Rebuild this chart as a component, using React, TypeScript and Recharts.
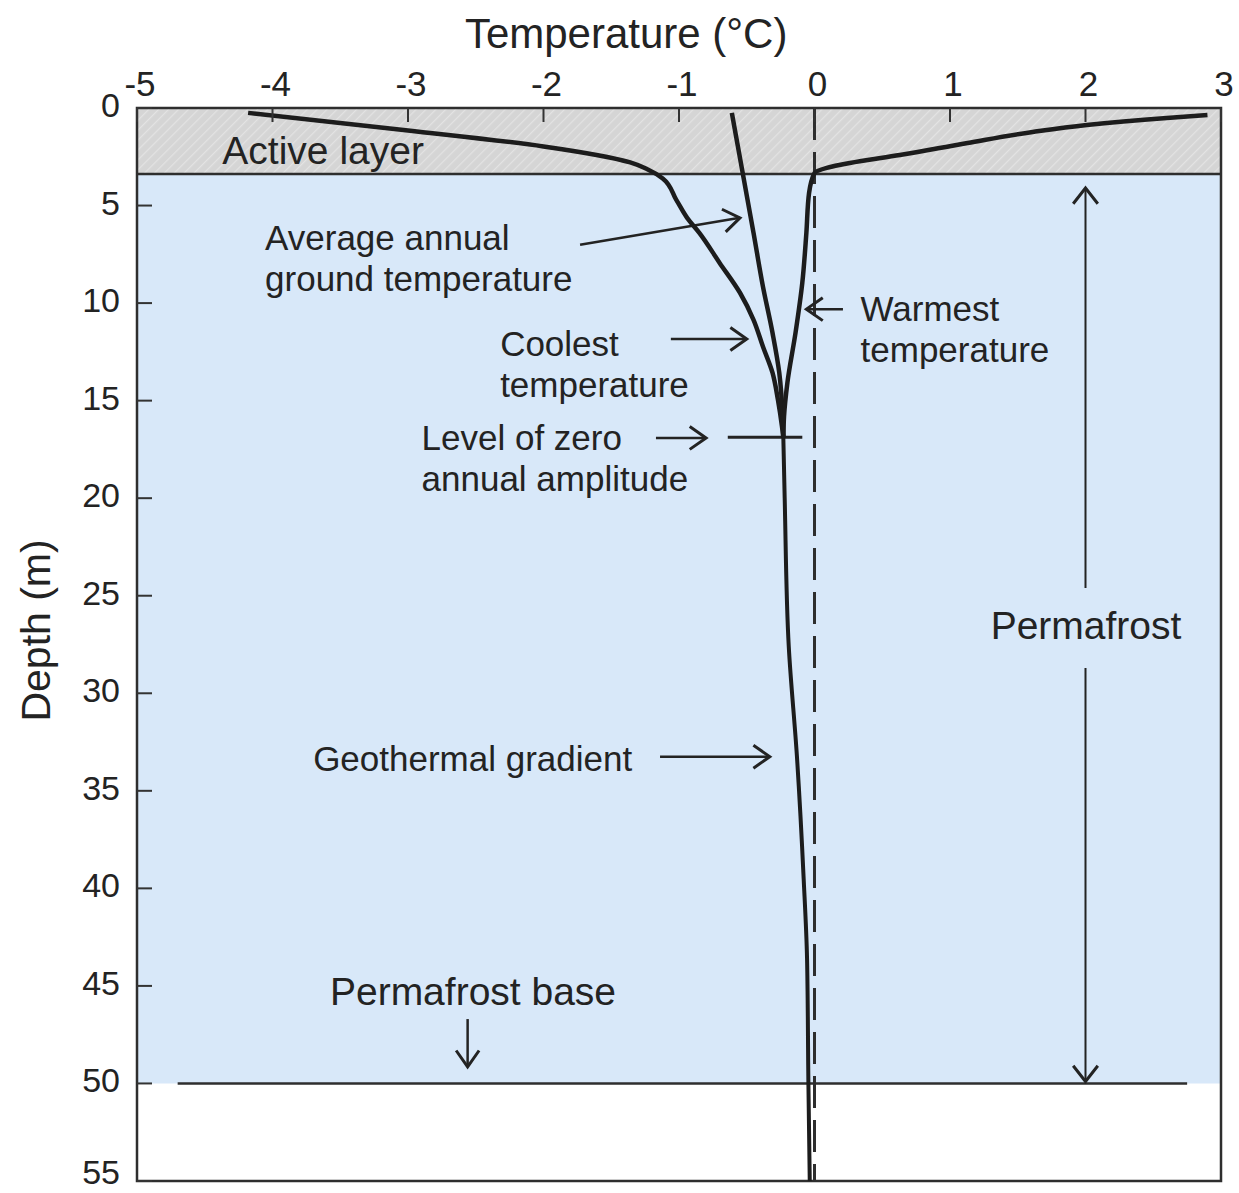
import React from 'react';
import {
  ScatterChart,
  Scatter,
  XAxis,
  YAxis,
  ReferenceArea,
  ReferenceLine,
  ReferenceDot,
} from 'recharts';

// ---------- data ----------
const tempTicks = [-5, -4, -3, -2, -1, 0, 1, 2, 3];
const depthTicks = [0, 5, 10, 15, 20, 25, 30, 35, 40, 45, 50, 55];

const activeLayerDepth = 3.38;
const permafrostBaseDepth = 50;

const coolest = [
  { t: -4.18, d: 0.25 },
  { t: -3.0, d: 1.15 },
  { t: -2.0, d: 1.97 },
  { t: -1.36, d: 2.79 },
  { t: -1.23, d: 3.15 },
  { t: -1.12, d: 3.61 },
  { t: -1.02, d: 4.71 },
  { t: -0.94, d: 5.63 },
  { t: -0.85, d: 6.4 },
  { t: -0.7, d: 7.94 },
  { t: -0.55, d: 9.47 },
  { t: -0.45, d: 10.86 },
  { t: -0.38, d: 12.24 },
  { t: -0.31, d: 13.57 },
  { t: -0.27, d: 14.95 },
  { t: -0.24, d: 16.33 },
  { t: -0.23, d: 16.9 },
];

const average = [
  { t: -0.61, d: 0.25 },
  { t: -0.53, d: 3.33 },
  { t: -0.45, d: 6.4 },
  { t: -0.38, d: 9.17 },
  { t: -0.31, d: 11.52 },
  { t: -0.26, d: 13.57 },
  { t: -0.235, d: 15.82 },
  { t: -0.23, d: 16.9 },
];

const warmest = [
  { t: 2.9, d: 0.36 },
  { t: 2.6, d: 0.51 },
  { t: 2.01, d: 0.87 },
  { t: 1.61, d: 1.23 },
  { t: 1.13, d: 1.79 },
  { t: 0.63, d: 2.41 },
  { t: 0.26, d: 2.82 },
  { t: 0.09, d: 3.07 },
  { t: 0.0, d: 3.33 },
  { t: -0.04, d: 4.35 },
  { t: -0.06, d: 6.4 },
  { t: -0.09, d: 8.96 },
  { t: -0.14, d: 11.52 },
  { t: -0.2, d: 14.08 },
  { t: -0.225, d: 15.82 },
  { t: -0.23, d: 16.9 },
];

const geothermal = [
  { t: -0.23, d: 16.9 },
  { t: -0.22, d: 20 },
  { t: -0.19, d: 27.6 },
  { t: -0.13, d: 33.2 },
  { t: -0.08, d: 39.5 },
  { t: -0.055, d: 43.6 },
  { t: -0.045, d: 50 },
  { t: -0.035, d: 55 },
];

// annotation arrows (data coordinates, from -> to)
const arrows = [
  { from: { t: -1.73, d: 7.01 }, to: { t: -0.55, d: 5.63 } },
  { from: { t: -1.06, d: 11.84 }, to: { t: -0.5, d: 11.84 } },
  { from: { t: 0.21, d: 10.31 }, to: { t: -0.06, d: 10.31 } },
  { from: { t: -1.17, d: 16.91 }, to: { t: -0.8, d: 16.91 } },
  { from: { t: -1.14, d: 33.25 }, to: { t: -0.33, d: 33.25 } },
  { from: { t: -2.56, d: 46.7 }, to: { t: -2.56, d: 49.15 } },
];

const zeroAmplitude = [
  { t: -0.64, d: 16.88 },
  { t: -0.09, d: 16.88 },
];

// permafrost extent arrow: split around the "Permafrost" label
const permafrostArrows = [
  { from: { t: 2.0, d: 24.6 }, to: { t: 2.0, d: 4.1 } },
  { from: { t: 2.0, d: 28.7 }, to: { t: 2.0, d: 49.9 } },
];

const notes = [
  { lines: ['Active layer'], t: -4.37, d: 2.13, big: true },
  { lines: ['Average annual', 'ground temperature'], t: -4.055, d: 6.61, big: false },
  { lines: ['Coolest', 'temperature'], t: -2.32, d: 12.03, big: false },
  { lines: ['Warmest', 'temperature'], t: 0.34, d: 10.24, big: false },
  { lines: ['Level of zero', 'annual amplitude'], t: -2.9, d: 16.85, big: false },
  { lines: ['Geothermal gradient'], t: -3.7, d: 33.34, big: false },
  { lines: ['Permafrost base'], t: -3.576, d: 45.26, big: true },
  { lines: ['Permafrost'], t: 1.3, d: 26.52, big: true },
];

// ---------- styles ----------
const FONT = '"Liberation Sans", Arial, Helvetica, sans-serif';
const INK = '#232323';

const XTick = (props: any) => {
  const { x, y, payload } = props;
  return (
    <g>
      <line x1={x} x2={x} y1={y} y2={y + 14} stroke="#333" strokeWidth={2} />
      <text
        x={x + 3}
        y={y - 25}
        textAnchor="middle"
        dominantBaseline="central"
        fontSize={35}
        fontFamily={FONT}
        fill={INK}
      >
        {payload.value}
      </text>
    </g>
  );
};

const YTick = (props: any) => {
  const { x, y, payload } = props;
  const lift = payload.value === 55 ? 9 : 3;
  return (
    <g>
      <line x1={x} x2={x + 15} y1={y} y2={y} stroke="#333" strokeWidth={2} />
      <text
        x={x - 17}
        y={y - lift}
        textAnchor="end"
        dominantBaseline="central"
        fontSize={34}
        fontFamily={FONT}
        fill={INK}
      >
        {payload.value}
      </text>
    </g>
  );
};

const head = (x1: number, y1: number, x2: number, y2: number, L: number, ang: number) => {
  const dx = x2 - x1;
  const dy = y2 - y1;
  const len = Math.sqrt(dx * dx + dy * dy) || 1;
  const ux = dx / len;
  const uy = dy / len;
  const a = (ang * Math.PI) / 180;
  const rot = (s: number) => {
    const c = Math.cos(s * a);
    const sn = Math.sin(s * a);
    return { x: ux * c - uy * sn, y: ux * sn + uy * c };
  };
  const r1 = rot(1);
  const r2 = rot(-1);
  return `M${x2 - L * r1.x},${y2 - L * r1.y} L${x2},${y2} L${x2 - L * r2.x},${y2 - L * r2.y}`;
};

const ArrowShape = (props: any) => {
  const { x1, y1, x2, y2 } = props;
  return (
    <g>
      <line x1={x1} y1={y1} x2={x2} y2={y2} stroke={INK} strokeWidth={2.5} />
      <path d={head(x1, y1, x2, y2, 20, 35)} fill="none" stroke={INK} strokeWidth={3} />
    </g>
  );
};

const ThinArrowShape = (props: any) => {
  const { x1, y1, x2, y2 } = props;
  return (
    <g>
      <line x1={x1} y1={y1} x2={x2} y2={y2} stroke={INK} strokeWidth={2} />
      <path d={head(x1, y1, x2, y2, 20, 38)} fill="none" stroke={INK} strokeWidth={3} />
    </g>
  );
};

const noteShape = (lines: string[], big: boolean) => (props: any) => {
  const { cx, cy } = props;
  const fs = big ? 39 : 35;
  return (
    <text x={cx} y={cy} fontSize={fs} fontFamily={FONT} fill={INK} dominantBaseline="central">
      {lines.map((ln, i) => (
        <tspan key={i} x={cx} dy={i === 0 ? 0 : 41}>
          {ln}
        </tspan>
      ))}
    </text>
  );
};

const xTitleShape = (props: any) => (
  <text
    x={props.cx}
    y={props.cy}
    textAnchor="middle"
    dominantBaseline="central"
    fontSize={42}
    fontFamily={FONT}
    fill={INK}
  >
    Temperature (°C)
  </text>
);

const yTitleShape = (props: any) => (
  <text
    x={props.cx}
    y={props.cy}
    textAnchor="middle"
    dominantBaseline="central"
    fontSize={41}
    fontFamily={FONT}
    fill={INK}
    transform={`rotate(-90 ${props.cx} ${props.cy})`}
  >
    Depth (m)
  </text>
);

const noDot = () => <g />;

export default function App() {
  return (
    <div style={{ position: 'absolute', left: 0, top: 0, background: '#fff' }}>
      <ScatterChart
        width={1239}
        height={1193}
        margin={{ top: 60, right: 18, bottom: 12, left: 57 }}
      >
        <defs>
          <pattern
            id="hatch"
            width="7"
            height="7"
            patternUnits="userSpaceOnUse"
            patternTransform="rotate(45)"
          >
            <rect width="7" height="7" fill="#d5d5d5" />
            <line x1="0" y1="0" x2="0" y2="7" stroke="#e3e3e3" strokeWidth="2.5" />
          </pattern>
        </defs>
        <XAxis
          xAxisId="x"
          type="number"
          dataKey="t"
          orientation="top"
          domain={[-5, 3]}
          ticks={tempTicks}
          allowDataOverflow
          height={48}
          axisLine={false}
          tickLine={false}
          tickSize={0}
          tickMargin={0}
          tick={<XTick />}
          interval={0}
        />
        <YAxis
          yAxisId="y"
          type="number"
          dataKey="d"
          domain={[0, 55]}
          ticks={depthTicks}
          reversed
          allowDataOverflow
          width={80}
          axisLine={false}
          tickLine={false}
          tickSize={0}
          tickMargin={0}
          tick={<YTick />}
          interval={0}
        />

        <ReferenceArea
          xAxisId="x"
          yAxisId="y"
          x1={-5}
          x2={3}
          y1={0}
          y2={activeLayerDepth}
          fill="url(#hatch)"
          fillOpacity={1}
          stroke="none"
        />
        <ReferenceArea
          xAxisId="x"
          yAxisId="y"
          x1={-5}
          x2={3}
          y1={activeLayerDepth}
          y2={permafrostBaseDepth}
          fill="#d8e8f9"
          fillOpacity={1}
          stroke="none"
        />
        <ReferenceLine
          xAxisId="x"
          yAxisId="y"
          y={activeLayerDepth}
          stroke="#2e2e2e"
          strokeWidth={2.5}
        />
        <ReferenceLine
          xAxisId="x"
          yAxisId="y"
          segment={[
            { x: -4.7, y: permafrostBaseDepth },
            { x: 2.75, y: permafrostBaseDepth },
          ]}
          stroke="#2e2e2e"
          strokeWidth={2.5}
        />
        <ReferenceLine
          xAxisId="x"
          yAxisId="y"
          x={0}
          stroke="#2e2e2e"
          strokeWidth={3}
          strokeDasharray="32 12"
        />

        <Scatter
          xAxisId="x"
          yAxisId="y"
          data={coolest}
          line={{ stroke: '#1c1c1c', strokeWidth: 4.5 }}
          lineJointType="monotoneY"
          shape={noDot}
          isAnimationActive={false}
        />
        <Scatter
          xAxisId="x"
          yAxisId="y"
          data={average}
          line={{ stroke: '#1c1c1c', strokeWidth: 4.5 }}
          lineJointType="monotoneY"
          shape={noDot}
          isAnimationActive={false}
        />
        <Scatter
          xAxisId="x"
          yAxisId="y"
          data={warmest}
          line={{ stroke: '#1c1c1c', strokeWidth: 4.5 }}
          lineJointType="monotoneY"
          shape={noDot}
          isAnimationActive={false}
        />
        <Scatter
          xAxisId="x"
          yAxisId="y"
          data={geothermal}
          line={{ stroke: '#1c1c1c', strokeWidth: 4 }}
          lineJointType="monotoneY"
          shape={noDot}
          isAnimationActive={false}
        />

        <ReferenceLine
          xAxisId="x"
          yAxisId="y"
          segment={zeroAmplitude.map((p) => ({ x: p.t, y: p.d }))}
          stroke={INK}
          strokeWidth={3}
        />
        {permafrostArrows.map((a, i) => (
          <ReferenceLine
            key={`p${i}`}
            xAxisId="x"
            yAxisId="y"
            segment={[
              { x: a.from.t, y: a.from.d },
              { x: a.to.t, y: a.to.d },
            ]}
            shape={ThinArrowShape}
          />
        ))}
        {arrows.map((a, i) => (
          <ReferenceLine
            key={`a${i}`}
            xAxisId="x"
            yAxisId="y"
            segment={[
              { x: a.from.t, y: a.from.d },
              { x: a.to.t, y: a.to.d },
            ]}
            shape={ArrowShape}
          />
        ))}
        {notes.map((n, i) => (
          <ReferenceDot
            key={`n${i}`}
            xAxisId="x"
            yAxisId="y"
            x={n.t}
            y={n.d}
            r={0}
            shape={noteShape(n.lines, n.big)}
          />
        ))}
        <ReferenceDot
          xAxisId="x"
          yAxisId="y"
          x={-1.39}
          y={-3.84}
          r={0}
          ifOverflow="visible"
          shape={xTitleShape}
        />
        <ReferenceDot
          xAxisId="x"
          yAxisId="y"
          x={-5.745}
          y={26.78}
          r={0}
          ifOverflow="visible"
          shape={yTitleShape}
        />
        <ReferenceArea
          xAxisId="x"
          yAxisId="y"
          x1={-5}
          x2={3}
          y1={0}
          y2={55}
          fill="none"
          stroke="#2e2e2e"
          strokeWidth={2.5}
        />
      </ScatterChart>
    </div>
  );
}
